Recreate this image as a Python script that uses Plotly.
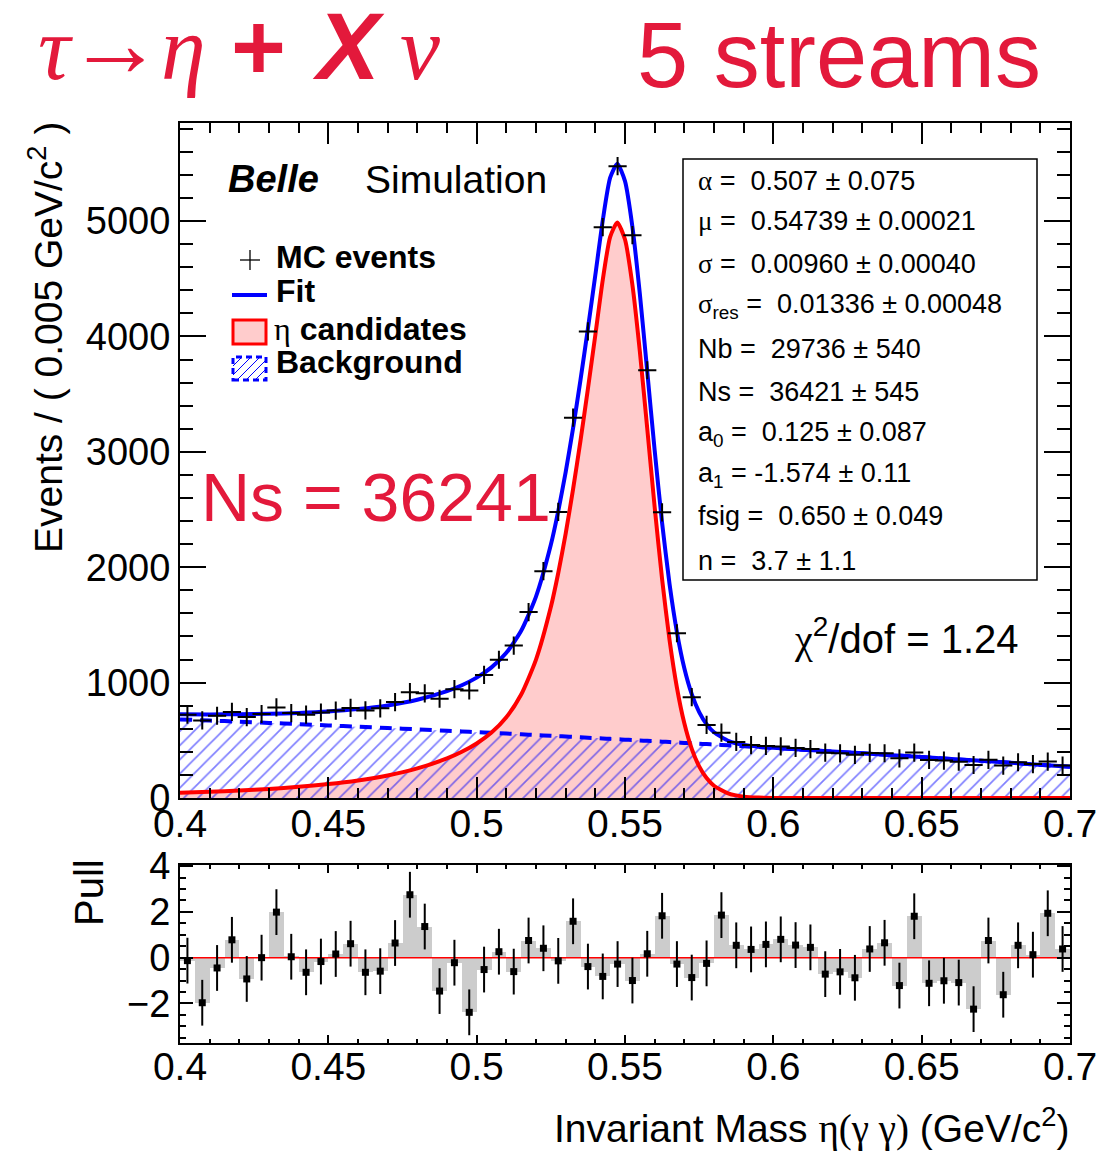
import numpy as np
import plotly.graph_objects as go

# ---------------------------------------------------------------- binning
X_MIN, X_MAX = 0.40, 0.70
BIN_WIDTH = 0.005

# MC events per 0.005 GeV/c^2 bin (60 bins from 0.40 to 0.70)
MC_EVENTS = [
    722, 672, 713, 746, 701, 728, 785, 736, 722, 741,
    758, 781, 759, 777, 831, 917, 907, 860, 943, 932,
    1067, 1198, 1321, 1611, 1966, 2479, 3296, 4044, 4947, 5476,
    4878, 3707, 2476, 1428, 874, 633, 566, 486, 459, 451,
    447, 434, 424, 393, 387, 374, 391, 388, 344, 394,
    330, 324, 315, 286, 331, 281, 310, 294, 316, 281,
]

# (data - fit) / error for every bin
PULLS = [
    -0.13, -1.97, -0.45, 0.78, -0.93, 0.00, 1.99, 0.04, -0.64, -0.17,
    0.16, 0.61, -0.64, -0.59, 0.64, 2.75, 1.36, -1.46, -0.22, -2.39,
    -0.52, 0.26, -0.61, 0.75, 0.41, -0.14, 1.59, -0.39, -0.82, -0.28,
    -1.00, 0.17, 1.83, -0.28, -0.87, -0.25, 1.86, 0.54, 0.36, 0.58,
    0.80, 0.55, 0.45, -0.72, -0.62, -0.88, 0.38, 0.65, -1.22, 1.81,
    -1.12, -1.01, -1.09, -2.25, 0.75, -1.62, 0.54, 0.13, 1.94, 0.38,
]

# fitted PDF components (events / bin) sampled along the mass axis
FIT_X = [
    0.400, 0.410, 0.420, 0.430, 0.440, 0.450, 0.460, 0.470, 0.480, 0.490,
    0.495, 0.500, 0.505, 0.510, 0.515, 0.520, 0.525, 0.5275, 0.530, 0.5325,
    0.535, 0.5375, 0.540, 0.5425, 0.545, 0.5474, 0.550, 0.5525, 0.555, 0.5575,
    0.560, 0.5625, 0.565, 0.5675, 0.570, 0.5725, 0.575, 0.5775, 0.580, 0.585,
    0.590, 0.595, 0.600, 0.610, 0.620, 0.640, 0.660, 0.680, 0.700,
]
SIGNAL_FIT = [
    44.6, 53.3, 64.3, 78.4, 96.6, 120.4, 152.3, 195.7, 256.1, 342.6,
    400.2, 472.5, 567.4, 699.7, 896.9, 1199.5, 1654.8, 1950.2, 2291.7, 2676.6,
    3097.5, 3546.3, 4012.7, 4489.3, 4863.6, 4988.0, 4840.0, 4446.3, 3871.4, 3201.2,
    2520.8, 1897.8, 1371.8, 957.0, 647.0, 426.2, 274.3, 172.7, 106.3, 37.6,
    11.8, 3.3, 0.8, 0.0, 0.0, 0.0, 0.0, 0.0, 0.0,
]
BACKGROUND_FIT = [
    681.1, 671.3, 661.2, 650.8, 640.2, 629.3, 618.2, 606.7, 595.0, 583.1,
    577.0, 570.9, 564.6, 558.4, 552.0, 545.6, 539.1, 535.8, 532.6, 529.3,
    525.9, 522.6, 519.3, 515.9, 512.5, 509.2, 505.7, 502.2, 498.8, 495.3,
    491.8, 488.3, 484.8, 481.3, 477.7, 474.2, 470.6, 467.0, 463.3, 456.1,
    448.7, 441.3, 433.8, 418.6, 403.1, 371.4, 338.7, 304.8, 269.8,
]
TOTAL_FIT = [
    725.7, 724.6, 725.5, 729.2, 736.8, 749.7, 770.5, 802.4, 851.1, 925.7,
    977.2, 1043.4, 1132.0, 1258.1, 1448.9, 1745.1, 2193.9, 2486.0, 2824.3, 3205.9,
    3623.4, 4068.9, 4532.0, 5005.2, 5376.1, 5497.2, 5345.7, 4948.5, 4370.2, 3696.5,
    3012.6, 2386.1, 1856.6, 1438.3, 1124.7, 900.4, 744.9, 639.7, 569.6, 493.7,
    460.5, 444.6, 434.6, 418.6, 403.1, 371.4, 338.7, 304.8, 269.8,
]

# axis ticks
X_TICKS = [0.40, 0.45, 0.50, 0.55, 0.60, 0.65, 0.70]
X_TICK_TEXT = ["0.4", "0.45", "0.5", "0.55", "0.6", "0.65", "0.7"]
Y_TICKS = [0, 1000, 2000, 3000, 4000, 5000]
Y_TICK_TEXT = ["0", "1000", "2000", "3000", "4000", "5000"]
PULL_TICKS = [-2, 0, 2, 4]
PULL_TICK_TEXT = ["\u22122", "0", "2", "4"]

SERIF = "Liberation Serif, Times New Roman, serif"
SANS = "Liberation Sans, Arial, Helvetica, sans-serif"


def gk(ch):
    return f'<span style="font-family:{SERIF}">{ch}</span>'


# fit-result box
STAT_LINES = [
    f"{gk('α')} =  0.507 ± 0.075",
    f"{gk('μ')} =  0.54739 ± 0.00021",
    f"{gk('σ')} =  0.00960 ± 0.00040",
    f"{gk('σ')}<sub>res</sub> =  0.01336 ± 0.00048",
    "Nb =  29736 ± 540",
    "Ns =  36421 ± 545",
    "a<sub>0</sub> =  0.125 ± 0.087",
    "a<sub>1</sub> = -1.574 ± 0.11",
    "fsig =  0.650 ± 0.049",
    "n =  3.7 ± 1.1",
]
STAT_LINE_Y = [181, 221, 264, 306, 349, 392, 434, 475, 516, 561]

RED_TEXT = "#E3193B"
W, H = 1103, 1155


def px(x):
    return x / W


def py(y):
    return 1 - y / H


centers = X_MIN + BIN_WIDTH * (np.arange(len(MC_EVENTS)) + 0.5)

fig = go.Figure()

# ---------------------------------------------------------------- main pad
spline = dict(shape="spline", smoothing=0.6)
fig.add_trace(go.Scatter(
    x=FIT_X, y=SIGNAL_FIT, mode="lines", line=dict(width=0, **spline),
    fill="tozeroy", fillcolor="#FFCCCC", hoverinfo="skip", showlegend=False,
    xaxis="x", yaxis="y"))
fig.add_trace(go.Scatter(
    x=FIT_X, y=BACKGROUND_FIT, mode="lines", line=dict(width=0, **spline),
    fill="tozeroy", fillcolor="rgba(0,0,0,0)",
    fillpattern=dict(shape="/", fgcolor="blue", size=10, solidity=0.17, fillmode="overlay"),
    hoverinfo="skip", showlegend=False, xaxis="x", yaxis="y"))
fig.add_trace(go.Scatter(
    x=FIT_X, y=BACKGROUND_FIT, mode="lines",
    line=dict(color="blue", width=4, dash="12px,8px", **spline),
    showlegend=False, xaxis="x", yaxis="y"))
fig.add_trace(go.Scatter(
    x=FIT_X, y=SIGNAL_FIT, mode="lines",
    line=dict(color="red", width=4, **spline),
    showlegend=False, xaxis="x", yaxis="y"))
fig.add_trace(go.Scatter(
    x=FIT_X, y=TOTAL_FIT, mode="lines",
    line=dict(color="blue", width=4, **spline),
    showlegend=False, xaxis="x", yaxis="y"))
fig.add_trace(go.Scatter(
    x=centers, y=MC_EVENTS, mode="markers",
    marker=dict(symbol="cross-thin", size=13, color="black", line=dict(width=2, color="black")),
    showlegend=False, xaxis="x", yaxis="y"))

# ---------------------------------------------------------------- pull pad
fig.add_trace(go.Bar(
    x=centers, y=PULLS, width=BIN_WIDTH, marker=dict(color="#CCCCCC", line=dict(width=0)),
    showlegend=False, xaxis="x2", yaxis="y2"))
fig.add_trace(go.Scatter(
    x=[X_MIN, X_MAX], y=[0, 0], mode="lines", line=dict(color="red", width=1.5),
    showlegend=False, xaxis="x2", yaxis="y2"))
fig.add_trace(go.Scatter(
    x=centers, y=PULLS, mode="markers",
    marker=dict(symbol="square", size=7, color="black"),
    error_y=dict(type="constant", value=1, width=0, thickness=2, color="black"),
    showlegend=False, xaxis="x2", yaxis="y2"))

tick_font = dict(family=SANS, size=38, color="black")
x_dom = [px(180), px(1070)]

common_x = dict(
    range=[X_MIN, X_MAX], domain=x_dom, tickmode="array", tickvals=X_TICKS,
    ticktext=X_TICK_TEXT, ticks="inside", showline=True, linecolor="black",
    linewidth=2, mirror="allticks", showgrid=False, zeroline=False,
    tickfont=dict(tick_font, size=39), tickcolor="black", tickwidth=2,
    automargin=False,
)

fig.update_layout(
    width=W, height=H, margin=dict(l=0, r=0, t=0, b=0, pad=0, autoexpand=False),
    paper_bgcolor="white", plot_bgcolor="white", bargap=0, showlegend=False,
    xaxis=dict(common_x, anchor="y", ticklen=21, ticklabelstandoff=-10,
               minor=dict(dtick=0.01, tick0=X_MIN, ticks="inside", ticklen=10,
                          tickwidth=2, tickcolor="black")),
    yaxis=dict(range=[0, 5850], domain=[py(798), py(123)], anchor="x",
               tickmode="array", tickvals=Y_TICKS, ticktext=Y_TICK_TEXT,
               ticks="inside", ticklen=26, tickwidth=2, tickcolor="black",
               minor=dict(dtick=200, tick0=0, ticks="inside", ticklen=13,
                          tickwidth=2, tickcolor="black"),
               showline=True, linecolor="black", linewidth=2, mirror="allticks",
               showgrid=False, zeroline=False, tickfont=tick_font, automargin=False),
    xaxis2=dict(common_x, anchor="y2", ticklen=8, ticklabelstandoff=-12,
                minor=dict(dtick=0.01, tick0=X_MIN, ticks="inside", ticklen=4,
                           tickwidth=2, tickcolor="black")),
    yaxis2=dict(range=[-3.73, 4.05], domain=[py(1043), py(865)], anchor="x2",
                tickmode="array", tickvals=PULL_TICKS, ticktext=PULL_TICK_TEXT,
                ticks="inside", ticklen=13, tickwidth=2, tickcolor="black",
                minor=dict(dtick=0.5, tick0=0, ticks="inside", ticklen=6,
                           tickwidth=2, tickcolor="black"),
                showline=True, linecolor="black", linewidth=2, mirror="allticks",
                showgrid=False, zeroline=False, tickfont=tick_font, automargin=False),
)

annotations = []


def label(text, x, y, size, color="black", family=SANS, xanchor="left",
          yanchor="middle", angle=0):
    annotations.append(dict(
        text=text, x=px(x), y=py(y), xref="paper", yref="paper",
        xanchor=xanchor, yanchor=yanchor, showarrow=False, textangle=angle,
        font=dict(family=family, size=size, color=color)))


# headline
label("<i>τ</i>", 55, 48, 90, RED_TEXT, SERIF, xanchor="center")
label("→", 115, 43, 96, RED_TEXT, SERIF, xanchor="center")
label("<i>η</i>", 183, 48, 90, RED_TEXT, SERIF, xanchor="center")
label("<b>+</b>", 258, 46, 94, RED_TEXT, xanchor="center")
label("<b><i>X</i></b>", 348, 46, 94, RED_TEXT, xanchor="center")
label("<i>ν</i>", 420, 48, 90, RED_TEXT, SERIF, xanchor="center")
label("5 streams", 839, 55, 92, RED_TEXT, xanchor="center")

# axis titles
label("Events / ( 0.005 GeV/c<sup>2</sup> )", 46, 338, 39, angle=-90, xanchor="center")
label("Pull", 89, 893, 40, angle=-90, xanchor="center")
label(f"Invariant Mass {gk('η(γ γ)')} (GeV/c<sup>2</sup>)", 1071, 1126, 39, xanchor="right")

# experiment tag
label("<b><i>Belle</i></b>", 226, 179, 38)
label("Simulation", 363, 179, 39)

# legend texts
label("<b>MC events</b>", 274, 257, 32)
label("<b>Fit</b>", 274, 291, 32)
label(f"{gk('η')}<b> candidates</b>", 272, 329, 32)
label("<b>Background</b>", 274, 362, 32)

# fit results
for line, yy in zip(STAT_LINES, STAT_LINE_Y):
    label(line, 696, yy, 27)

label(f"{gk('χ')}<sup>2</sup>/dof = 1.24", 792, 636, 40)
label("Ns = 36241", 199, 497, 68, RED_TEXT)

fig.update_layout(annotations=annotations)

# ---------------------------------------------------------------- shapes
shapes = []
# fit-result frame
shapes.append(dict(type="rect", xref="paper", yref="paper",
                   x0=px(683), x1=px(1037), y0=py(580), y1=py(159),
                   line=dict(color="black", width=1.5), fillcolor="white",
                   layer="below"))


def seg(x0, y0, x1, y1, color, width, dash="solid"):
    shapes.append(dict(type="line", xref="paper", yref="paper",
                       x0=px(x0), y0=py(y0), x1=px(x1), y1=py(y1),
                       line=dict(color=color, width=width, dash=dash)))


# legend keys
seg(240, 260, 260, 260, "black", 1.3)
seg(250, 250, 250, 270, "black", 1.3)
seg(232, 295, 267, 295, "blue", 4)
shapes.append(dict(type="rect", xref="paper", yref="paper",
                   x0=px(233), x1=px(266), y0=py(344), y1=py(320),
                   line=dict(color="red", width=3), fillcolor="#FFCCCC"))
# hatched background key
bx0, bx1, by0, by1 = 233, 266, 357, 380
for c in range(bx0 - (by1 - by0), bx1, 9):
    y_hi = min(by1, by1 - (bx0 - c))
    y_lo = max(by0, by1 - (bx1 - c))
    if y_hi > y_lo:
        seg(c + (by1 - y_hi), y_hi, c + (by1 - y_lo), y_lo, "blue", 1)
shapes.append(dict(type="rect", xref="paper", yref="paper",
                   x0=px(bx0), x1=px(bx1), y0=py(by1), y1=py(by0),
                   line=dict(color="blue", width=3, dash="6px,4px")))

fig.update_layout(shapes=shapes)

fig.write_html("out.html")
